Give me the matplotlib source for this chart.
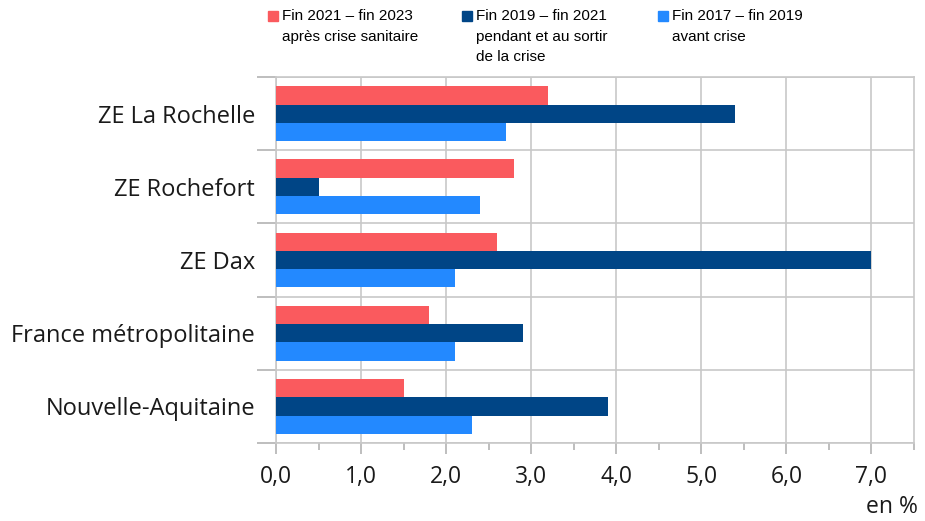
import numpy as np
import matplotlib.pyplot as plt
from matplotlib.patches import Rectangle
from matplotlib.ticker import FuncFormatter, MultipleLocator

plt.rcParams['font.family'] = ['Open Sans', 'DejaVu Sans']

# données (en %)
zones = ["ZE La Rochelle", "ZE Rochefort", "ZE Dax",
         "France métropolitaine", "Nouvelle-Aquitaine"]
apres_crise = [3.2, 2.8, 2.6, 1.8, 1.5]      # fin 2021 - fin 2023
pendant_crise = [5.4, 0.5, 7.0, 2.9, 3.9]    # fin 2019 - fin 2021
avant_crise = [2.7, 2.4, 2.1, 2.1, 2.3]      # fin 2017 - fin 2019

series_labels = ["Fin 2021 – fin 2023\naprès crise sanitaire",
                 "Fin 2019 – fin 2021\npendant et au sortir\nde la crise",
                 "Fin 2017 – fin 2019\navant crise"]
colors = ["#fa5a5e", "#004586", "#2389ff"]

fig = plt.figure(figsize=(9.25, 5.21), dpi=100)
ax = fig.add_axes([0.2984, 0.1497, 0.6896, 0.7023])

y = np.arange(len(zones))
h = 0.25
for i, vals in enumerate([apres_crise, pendant_crise, avant_crise]):
    ax.barh(y + (i - 1) * h, vals, height=h, color=colors[i], zorder=3)

ax.set_ylim(len(zones) - 0.5, -0.5)
ax.set_xlim(0, 7.5)

# lignes horizontales entre catégories
ax.set_yticks(np.arange(-0.5, len(zones), 1.0))
ax.set_yticklabels([])
ax.set_yticks(y, minor=True)
ax.set_yticklabels(zones, minor=True, fontsize=17, color='#1a1a1a')
ax.tick_params(axis='y', which='minor', length=0, pad=15)
ax.tick_params(axis='y', which='major', length=14, color='#b3b3b3', width=1.2)

ax.xaxis.set_major_locator(MultipleLocator(1))
ax.xaxis.set_minor_locator(MultipleLocator(0.5))
ax.xaxis.set_major_formatter(FuncFormatter(lambda v, p: f"{v:.1f}".replace('.', ',')))
ax.tick_params(axis='x', which='major', length=8, color='#b3b3b3', width=1.2,
               labelsize=16.5, pad=8, labelcolor='#1a1a1a')
ax.tick_params(axis='x', which='minor', length=5, color='#b3b3b3', width=1.2)

ax.grid(True, which='major', color='#c8c8c8', linewidth=1.2, zorder=0)
for s in ax.spines.values():
    s.set_color('#c8c8c8')
    s.set_linewidth(1.2)

fig.text(0.992, 0.004, "en %", ha='right', va='bottom', fontsize=16.5, color='#1a1a1a')

# légende en haut
leg_x = [268, 462, 658]
for lx, lab, c in zip(leg_x, series_labels, colors):
    fig.patches.append(Rectangle((lx / 925, 1 - 21 / 521), 10 / 925, 10 / 521,
                                 transform=fig.transFigure, color=c, figure=fig))
    fig.text((lx + 14) / 925, 1 - 9 / 521, lab, ha='left', va='top',
             fontsize=11, family='Liberation Sans', linespacing=1.6)

fig.savefig("out.png", dpi=100)
